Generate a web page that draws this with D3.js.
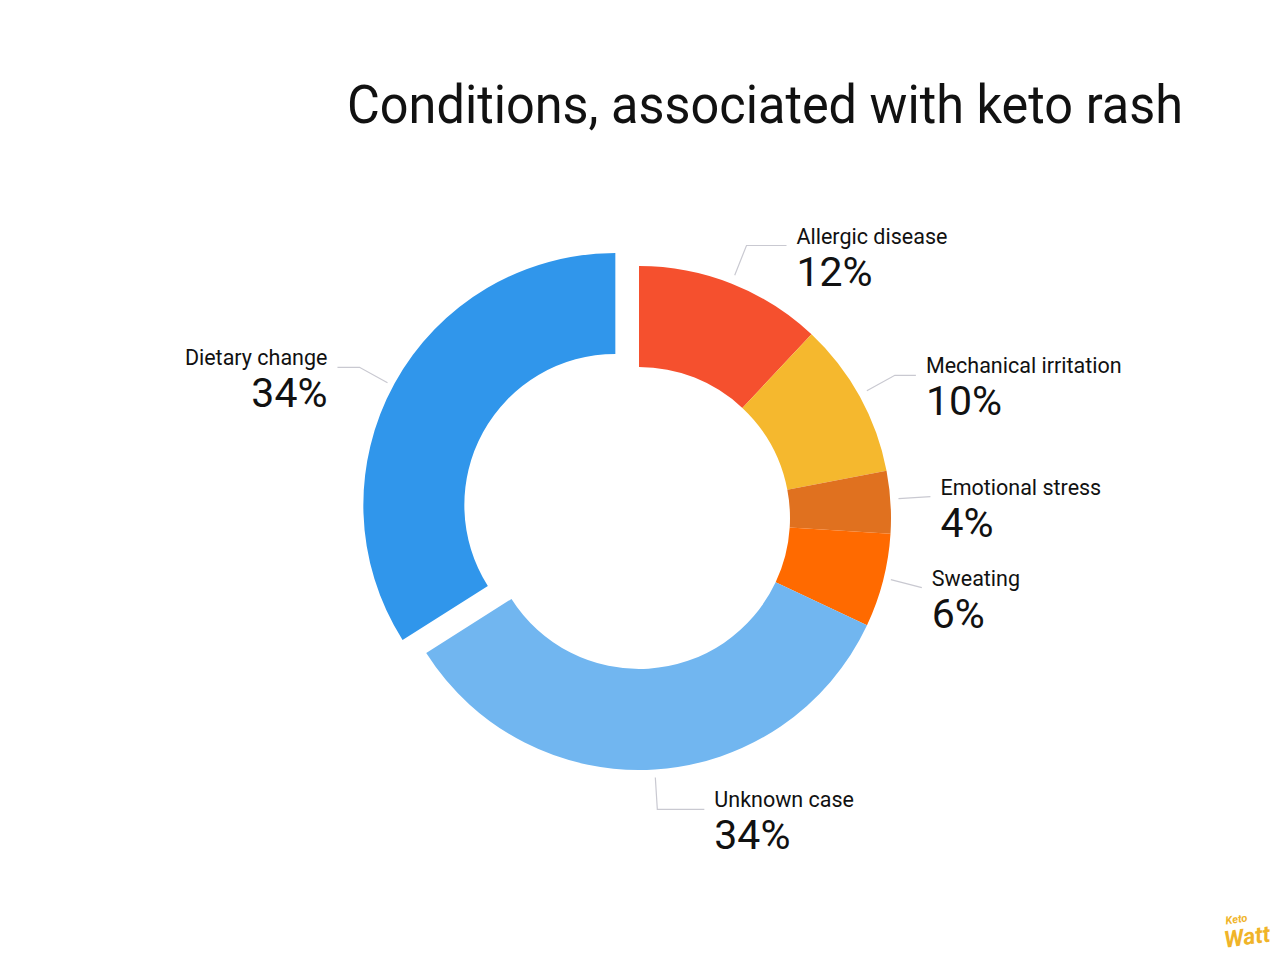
<!DOCTYPE html>
<html>
<head>
<meta charset="utf-8">
<script src="https://cdn.jsdelivr.net/npm/d3@7"></script>
<style>
  html, body { margin: 0; padding: 0; background: #ffffff; }
  svg { display: block; }
  text { font-family: Roboto, "Noto Sans", sans-serif; }
</style>
</head>
<body>
<svg id="chart" width="1280" height="960"></svg>
<script>
// ---- data ----
const categories = ["Allergic disease", "Mechanical irritation", "Emotional stress", "Sweating", "Unknown case", "Dietary change"];
const values = [12, 10, 4, 6, 34, 34];
const colors = ["#F5502E", "#F5B82E", "#E0711F", "#FF6A00", "#71B6F0", "#3096EB"];
const exploded = ["Dietary change"];
const title = "Conditions, associated with keto rash";

// ---- layout ----
const W = 1280, H = 960;
const cx = 639, cy = 518;
const rOuter = 252, rInner = 151;
const explodeDist = 27;
const leaderStart = rOuter + 8, leaderElbow = rOuter + 40;
const leaderHoriz = [40, 21, 0, 0, 47, 22];
const labelShift = [-1, -2, -3, -3, 0, 3];

const svg = d3.select("#chart");

svg.append("text")
  .attr("x", 347).attr("y", 123)
  .attr("font-size", 53)
  .attr("fill", "#111")
  .attr("textLength", 836)
  .attr("lengthAdjust", "spacingAndGlyphs")
  .text(title);

const data = categories.map((c, i) => ({ name: c, value: values[i], color: colors[i], idx: i }));

const pie = d3.pie().value(d => d.value).sort(null).startAngle(0).endAngle(2 * Math.PI);
const arcs = pie(data);
const arc = d3.arc().innerRadius(rInner).outerRadius(rOuter);

const g = svg.append("g").attr("transform", `translate(${cx},${cy})`);

function offsetOf(a) {
  if (!exploded.includes(a.data.name)) return [0, 0];
  const m = (a.startAngle + a.endAngle) / 2;
  return [Math.sin(m) * explodeDist, -Math.cos(m) * explodeDist];
}

g.selectAll("path.slice")
  .data(arcs)
  .enter().append("path")
  .attr("class", "slice")
  .attr("d", arc)
  .attr("fill", d => d.data.color)
  .attr("transform", d => { const o = offsetOf(d); return `translate(${o[0]},${o[1]})`; });

// labels
arcs.forEach((a, i) => {
  const m = (a.startAngle + a.endAngle) / 2;
  const o = offsetOf(a);
  const sx = Math.sin(m), sy = -Math.cos(m);
  const dy = labelShift[i];
  const p0 = [o[0] + sx * leaderStart, o[1] + sy * leaderStart + dy];
  const p1 = [o[0] + sx * leaderElbow, o[1] + sy * leaderElbow + dy];
  const right = sx >= 0;
  const h = leaderHoriz[i];
  const p2 = [p1[0] + (right ? h : -h), p1[1]];
  g.append("polyline")
    .attr("points", [p0, p1, p2].map(p => p.join(",")).join(" "))
    .attr("fill", "none")
    .attr("stroke", "#c9c9d1")
    .attr("stroke-width", 1.2);
  const tx = p2[0] + (right ? 10 : -10);
  const anchor = right ? "start" : "end";
  g.append("text")
    .attr("x", tx).attr("y", p1[1] - 2)
    .attr("text-anchor", anchor)
    .attr("font-size", 21.5)
    .attr("fill", "#111")
    .text(a.data.name);
  g.append("text")
    .attr("x", tx).attr("y", p1[1] + 40)
    .attr("text-anchor", anchor)
    .attr("font-size", 41)
    .attr("fill", "#111")
    .text(a.data.value + "%");
});

// logo
const logo = svg.append("g").attr("transform", "translate(1244,930) rotate(-8)");
logo.append("text")
  .attr("x", -6).attr("y", -8)
  .attr("text-anchor", "middle")
  .attr("font-family", "DejaVu Serif")
  .attr("font-style", "italic")
  .attr("font-weight", "bold")
  .attr("font-size", 11)
  .attr("fill", "#F0B429")
  .text("Keto");
logo.append("text")
  .attr("x", 2).attr("y", 15)
  .attr("text-anchor", "middle")
  .attr("font-family", "DejaVu Serif")
  .attr("font-style", "italic")
  .attr("font-weight", "bold")
  .attr("font-size", 23)
  .attr("fill", "#F0B429")
  .text("Watt");
</script>
</body>
</html>
